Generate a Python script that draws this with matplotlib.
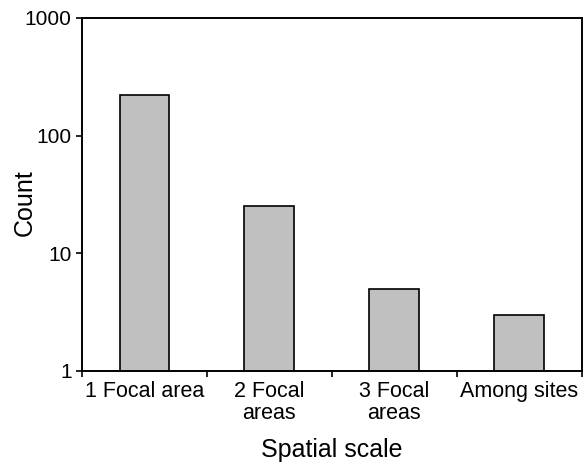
import matplotlib.pyplot as plt
import numpy as np

# data
categories = ["1 Focal area", "2 Focal\nareas", "3 Focal\nareas", "Among sites"]
counts = [220, 25, 5, 3]

plt.rcParams["font.family"] = ["Liberation Sans", "DejaVu Sans"]

fig = plt.figure(figsize=(5.83, 4.67), dpi=100)
ax = fig.add_axes([0.1407, 0.2056, 0.857, 0.756])

x = np.arange(len(categories))
ax.bar(x, counts, width=0.4, color="#c0c0c0", edgecolor="black", linewidth=1.2)

ax.set_yscale("log")
ax.set_ylim(1, 1000)
ax.set_yticks([1, 10, 100, 1000])
ax.set_yticklabels(["1", "10", "100", "1000"])
ax.minorticks_off()
ax.set_xlim(-0.5, len(categories) - 0.5)

# ticks at category boundaries, labels at centres
ax.set_xticks(np.arange(len(categories) + 1) - 0.5)
ax.set_xticklabels([])
ax.set_xticks(x, minor=True)
ax.set_xticklabels(categories, minor=True, linespacing=1.05)
ax.tick_params(axis="x", which="minor", length=0, labelsize=15.5, pad=7)
ax.tick_params(axis="x", which="major", length=4.5, width=1.2, direction="out")
ax.tick_params(axis="y", length=4.5, width=1.2, direction="out", labelsize=15, pad=3)

for s in ax.spines.values():
    s.set_linewidth(1.4)

ax.set_xlabel("Spatial scale", fontsize=18)
ax.set_ylabel("Count", fontsize=18)
ax.xaxis.set_label_coords(0.5, -0.19)
ax.yaxis.set_label_coords(-0.09, 0.476)

fig.savefig("out.png", dpi=100)
